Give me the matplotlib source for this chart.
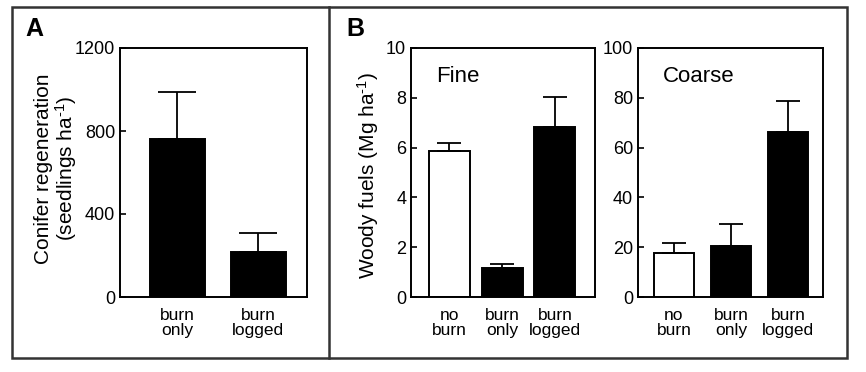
import matplotlib.pyplot as plt
from matplotlib.patches import Rectangle
from matplotlib.lines import Line2D

plt.rcParams['font.family'] = ['Liberation Sans', 'DejaVu Sans']
plt.rcParams['mathtext.fontset'] = 'custom'
plt.rcParams['mathtext.rm'] = 'Liberation Sans'
plt.rcParams['mathtext.it'] = 'Liberation Sans'
plt.rcParams['mathtext.default'] = 'regular'

# Panel A: conifer regeneration
a_labels = ["burn\nonly", "burn\nlogged"]
a_values = [762, 217]
a_errors = [226, 91]

# Panel B: woody fuels
b_labels = ["no\nburn", "burn\nonly", "burn\nlogged"]
fine_values = [5.86, 1.18, 6.81]
fine_errors = [0.31, 0.13, 1.23]
coarse_values = [17.8, 20.5, 66.4]
coarse_errors = [3.8, 8.7, 12.5]
b_colors = ["white", "black", "black"]

W, H = 866, 372
fig = plt.figure(figsize=(W / 100, H / 100), dpi=100)
HY = "\u2010"  # plain hyphen for the superscript


def px_axes(left, top, right, bottom):
    return fig.add_axes([left / W, 1 - bottom / H, (right - left) / W, (bottom - top) / H])


def style(ax, ylim, yticks):
    ax.set_ylim(*ylim)
    ax.set_yticks(yticks)
    ax.tick_params(axis='y', direction='in', length=4.5, width=1.2, labelsize=13, pad=3.5)
    ax.tick_params(axis='x', length=0, labelsize=12.5, pad=8)
    for s in ax.spines.values():
        s.set_linewidth(1.4)


def bars(ax, values, errors, colors, width, capsize):
    x = list(range(len(values)))
    ax.bar(x, values, width=width, color=colors, edgecolor='black', linewidth=1.4, zorder=2)
    ax.errorbar(x, values, yerr=[[0] * len(values), errors], fmt='none', ecolor='black',
                elinewidth=1.3, capsize=capsize, capthick=1.3, zorder=3)
    return x


# A
axA = px_axes(120, 48, 307, 297)
x = bars(axA, a_values, a_errors, ["black", "black"], 0.68, 13.5)
axA.set_xlim(-0.71, 1.6)
axA.set_xticks(x)
axA.set_xticklabels(a_labels, linespacing=0.95)
style(axA, (0, 1200), [0, 400, 800, 1200])
fig.text(56.5 / W, 1 - 168.5 / H, "Conifer regeneration\n(seedlings ha$^{" + HY + "1}$)",
         rotation=90, ha='center', va='center', fontsize=15, linespacing=1.0)

# B fine
axF = px_axes(411, 48, 595, 297)
x = bars(axF, fine_values, fine_errors, b_colors, 0.78, 8.5)
axF.set_xlim(-0.73, 2.76)
axF.set_xticks(x)
axF.set_xticklabels(b_labels, linespacing=0.95)
style(axF, (0, 10), [0, 2, 4, 6, 8, 10])
fig.text(368 / W, 1 - 176 / H, "Woody fuels (Mg ha$^{" + HY + "1}$)",
         rotation=90, ha='center', va='center', fontsize=15)
axF.text(0.136, 0.884, "Fine", transform=axF.transAxes, fontsize=16, va='center')

# B coarse
axC = px_axes(638, 48, 823, 297)
x = bars(axC, coarse_values, coarse_errors, b_colors, 0.7, 8.5)
axC.set_xlim(-0.63, 2.61)
axC.set_xticks(x)
axC.set_xticklabels(b_labels, linespacing=0.95)
style(axC, (0, 100), [0, 20, 40, 60, 80, 100])
axC.text(0.135, 0.884, "Coarse", transform=axC.transAxes, fontsize=16, va='center')

# panel letters
fig.text(25 / W, 1 - 29 / H, "A", fontsize=18, fontweight='bold', va='center')
fig.text(346 / W, 1 - 29 / H, "B", fontsize=18, fontweight='bold', va='center')

# outer frame and divider
fig.patches.append(Rectangle((12 / W, 1 - 358 / H), (847 - 12) / W, (358 - 7) / H,
                             transform=fig.transFigure, fill=False, edgecolor='#333333', linewidth=1.8))
fig.lines.append(Line2D([329 / W, 329 / W], [1 - 358 / H, 1 - 7 / H],
                        transform=fig.transFigure, color='#333333', linewidth=1.8))

fig.savefig("out.png", dpi=100)
